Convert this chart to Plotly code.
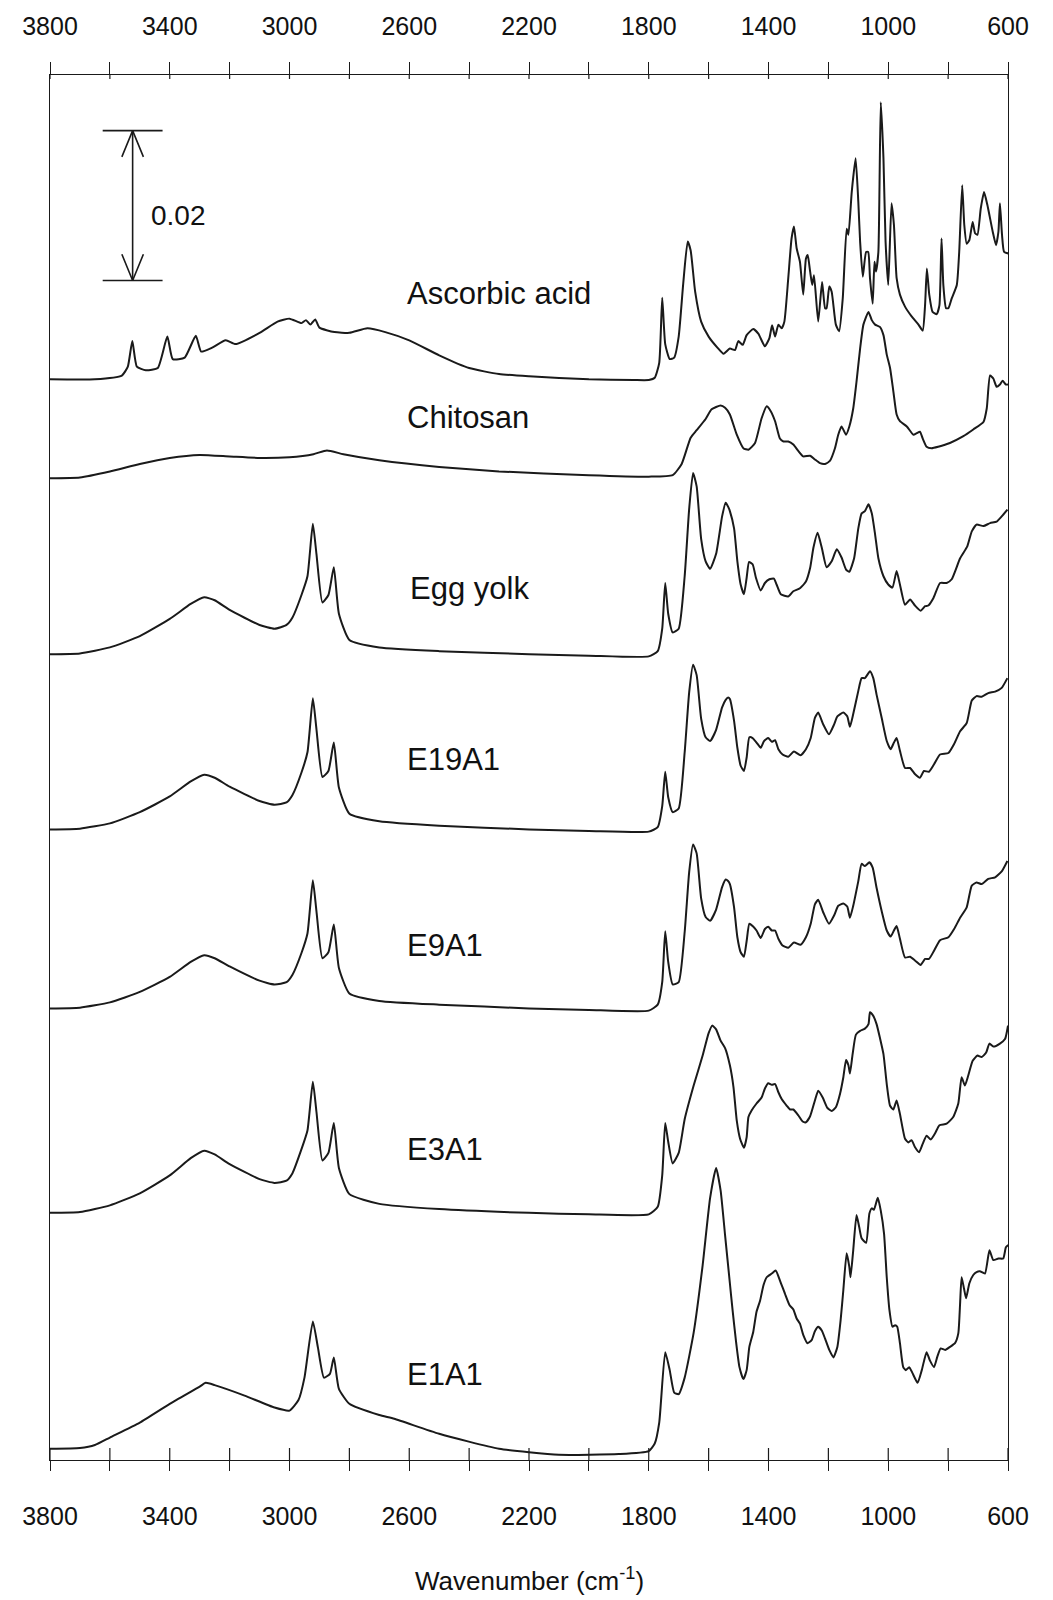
import plotly.graph_objects as go

# ---------------- data (absorbance in 10^-3 units, spectra stacked) ----------------
wn_aa = [3800, 3650, 3560, 3540, 3525, 3510, 3480, 3440, 3408, 3390, 3350, 3313, 3295, 3260, 3213, 3180,
         3100, 3040, 3000, 2960, 2945, 2930, 2914, 2900, 2850, 2800, 2740, 2680, 2600, 2500, 2400, 2300,
         2200, 2000, 1850, 1800, 1780, 1765, 1755, 1745, 1730, 1715, 1700, 1685, 1670, 1660, 1645, 1625,
         1600, 1570, 1550,
         1529, 1512, 1501, 1486, 1473, 1451, 1434, 1412, 1397, 1388, 1378, 1367, 1356, 1347, 1334, 1323,
         1315, 1306, 1295, 1284, 1275, 1269, 1261, 1254, 1248, 1234, 1221, 1211, 1206, 1197, 1189, 1175,
         1164, 1152, 1139, 1133, 1122, 1109, 1100, 1094, 1085, 1074, 1067, 1061, 1052, 1046, 1041, 1033,
         1025, 1016, 1009, 1000, 989, 981, 972, 961, 944, 922, 899, 885, 877, 871, 863, 852, 838, 829,
         822, 816, 807, 799, 788, 771, 763, 753, 746, 738, 729, 718, 710, 702, 691, 680, 669, 651, 640,
         632, 627, 620, 613, 599]
ab_aa = [144.3, 144.3, 144.8, 146.0, 149.4, 146.0, 145.5, 145.8, 150.0, 147.0, 147.2, 150.1, 148.0, 148.5,
         149.5, 149.0, 150.5, 152.0, 152.4, 151.8, 152.2, 151.6, 152.3, 151.2, 150.6, 150.5, 151.1, 150.6,
         149.5, 147.5, 145.8, 145.0, 144.7, 144.3, 144.2, 144.2, 144.5, 146.5, 155.2, 149.0, 147.0, 147.2,
         150.0, 157.0, 162.7, 161.5, 156.0, 152.0, 150.0, 148.5, 147.7,
         148.4, 148.2, 149.4, 148.9, 150.2, 151.0, 150.4, 148.7, 149.8, 151.5, 150.0, 151.6, 151.1, 152.0,
         157.8, 163.1, 164.7, 161.8, 160.0, 155.6, 160.4, 160.9, 158.7, 156.9, 158.2, 152.0, 157.3, 153.8,
         153.8, 156.7, 156.0, 151.6, 150.7, 155.1, 164.4, 163.6, 169.3, 173.8, 168.0, 162.7, 158.0, 161.3,
         161.3, 157.8, 154.4, 160.0, 158.7, 161.3, 181.3, 173.8, 162.7, 156.9, 167.8, 164.9, 157.8, 155.6,
         154.0, 152.7, 151.6, 150.8, 154.2, 159.1, 155.6, 153.3, 153.0, 154.2, 163.1, 156.9, 153.8, 153.8,
         155.1, 156.9, 161.3, 170.2, 164.9, 162.4, 162.9, 165.3, 163.8, 163.6, 167.1, 169.3, 167.6, 164.0,
         162.2, 164.0, 167.8, 163.6, 161.3, 161.1]

wn_ch = [3800, 3700, 3600, 3500, 3400, 3300, 3200, 3100, 3000, 2920, 2875, 2820, 2700, 2500, 2300, 2000,
         1800, 1720, 1690, 1660, 1640, 1610, 1590, 1560, 1545,
         1529, 1506, 1484, 1467, 1445, 1423, 1406, 1395, 1378, 1362, 1350, 1334, 1317, 1300, 1284, 1261,
         1245, 1228, 1211, 1195, 1178, 1167, 1156, 1141, 1130, 1117, 1106, 1094, 1083, 1066, 1055, 1044,
         1028, 1016, 1005, 994, 983, 972, 961, 938, 916, 905, 894, 885, 872, 855, 833, 794, 749, 716, 682,
         671, 660, 649, 638, 627, 618, 607, 599]
ab_ch = [131.1, 131.2, 132.0, 133.0, 133.8, 134.2, 134.0, 133.8, 133.9, 134.3, 134.8, 134.3, 133.5, 132.6,
         132.0, 131.5, 131.3, 131.5, 133.0, 136.5, 137.5, 139.0, 140.3, 140.8, 140.5,
         139.6, 136.9, 135.1, 134.9, 135.8, 139.1, 140.7, 140.2, 138.7, 136.4, 136.0, 136.0, 135.6, 134.7,
         134.0, 134.1, 133.6, 133.1, 133.0, 133.4, 135.1, 136.9, 138.0, 136.9, 138.0, 140.4, 144.0, 148.4,
         151.6, 153.3, 152.2, 151.6, 151.3, 150.2, 147.6, 145.8, 142.7, 139.6, 138.7, 138.0, 136.9, 137.1,
         137.3, 136.4, 135.3, 135.1, 135.3, 135.8, 136.7, 137.6, 138.6, 140.4, 144.8, 144.4, 143.3, 143.6,
         144.1, 143.6, 143.6]

wn_hi = [3800, 3700, 3600, 3500, 3400, 3330, 3285, 3250, 3200, 3100, 3050, 3010, 2990, 2960, 2940, 2922,
         2910, 2890, 2870, 2852, 2835, 2800, 2700, 2500, 2200, 2000, 1800, 1770, 1755, 1745, 1735, 1720,
         1700, 1680, 1665, 1652, 1640, 1625, 1610, 1595, 1575, 1555, 1543, 1535]

wn_fp = [1529, 1515, 1504, 1493, 1482, 1473, 1465, 1453, 1442, 1426, 1412, 1397, 1382, 1373, 1359, 1334,
         1317, 1295, 1275, 1261, 1250, 1236, 1222, 1206, 1189, 1172, 1156, 1141, 1130, 1114, 1100, 1089,
         1078, 1066, 1055, 1044, 1033, 1016, 1000, 986, 972, 961, 944, 927, 911, 892, 877, 866, 849, 827,
         805, 788, 760, 736, 721, 705, 682, 660, 638, 621, 602]

wn_ey = wn_hi + wn_fp
ab_ey = [107.6, 107.7, 108.5, 110.0, 112.3, 114.3, 115.2, 114.8, 113.5, 111.5, 111.0, 111.5, 112.5, 115.5,
         118.0, 125.0, 121.0, 114.5, 115.5, 119.2, 113.0, 109.5, 108.5, 108.0, 107.6, 107.4, 107.3, 108.0,
         111.0, 117.1, 113.0, 110.5, 111.0, 118.0, 127.0, 131.8, 130.0, 123.0, 120.0, 119.0, 121.0, 126.0,
         127.8, 127.3,
         126.7, 124.4, 120.0, 116.9, 115.6, 117.8, 119.9, 119.6, 117.8, 116.1, 117.1, 117.6, 117.7, 116.9,
         115.6, 115.3, 116.0, 116.4, 117.3, 119.1, 121.8, 123.8, 121.8, 119.2, 120.0, 121.6, 120.5, 118.9,
         118.6, 120.4, 124.4, 126.4, 126.7, 127.6, 126.4, 123.6, 120.4, 118.0, 116.9, 116.5, 118.7, 116.9,
         114.2, 114.9, 114.1, 113.4, 114.0, 114.1, 115.1, 117.1, 117.1, 117.6, 120.4, 122.0, 124.0, 124.9,
         124.7, 125.1, 125.3, 126.0, 126.9]

wn_19 = wn_hi + [1529, 1515, 1504, 1493, 1482, 1473, 1464, 1453, 1440, 1426, 1415, 1401, 1389, 1378, 1367,
                 1353, 1334, 1315, 1293, 1275, 1259, 1245, 1234, 1217, 1198, 1181, 1170, 1150, 1137, 1128,
                 1117, 1100, 1089, 1078, 1061, 1050, 1039, 1022, 1005, 992, 981, 972, 961, 944, 927, 911,
                 894, 881, 864, 847, 827, 799, 780, 760, 738, 721, 705, 688, 666, 643, 621, 602]
ab_19 = [84.2, 84.3, 85.0, 86.5, 88.6, 90.6, 91.5, 91.1, 89.9, 88.0, 87.5, 87.8, 88.8, 91.8, 94.5, 101.7,
         97.6, 91.2, 92.0, 95.8, 89.8, 86.3, 85.3, 84.7, 84.2, 84.0, 83.9, 84.5, 87.3, 91.9, 88.5, 86.5,
         87.0, 94.5, 102.5, 106.2, 104.8, 99.0, 96.5, 96.0, 97.5, 100.5, 101.5, 101.8,
         101.6, 98.7, 95.1, 92.7, 92.0, 93.8, 96.5, 96.4, 95.8, 95.1, 96.0, 96.4, 95.9, 96.1, 94.9, 94.2,
         93.9, 94.6, 94.1, 94.9, 96.4, 99.1, 99.8, 98.2, 96.9, 98.2, 99.3, 99.8, 99.3, 97.9, 99.6, 102.7,
         104.4, 104.4, 105.3, 104.4, 102.2, 99.1, 96.0, 94.9, 95.8, 96.4, 94.7, 92.4, 92.4, 91.6, 91.1,
         92.0, 91.9, 92.9, 94.2, 94.4, 95.6, 97.3, 98.4, 101.4, 102.0, 101.9, 102.4, 102.6, 103.1, 104.4]

wn_9 = wn_hi + [1529, 1515, 1504, 1493, 1482, 1473, 1464, 1453, 1440, 1426, 1412, 1401, 1389, 1378, 1367,
                1353, 1334, 1315, 1293, 1275, 1259, 1245, 1234, 1217, 1198, 1181, 1167, 1150, 1137, 1128,
                1117, 1100, 1089, 1078, 1063, 1052, 1039, 1022, 1005, 992, 981, 972, 961, 944, 927, 911,
                892, 877, 864, 847, 827, 799, 780, 760, 738, 721, 705, 688, 666, 643, 621, 602]
ab_9 = [60.3, 60.4, 61.1, 62.5, 64.5, 66.5, 67.4, 67.0, 65.9, 64.0, 63.5, 63.8, 64.8, 67.7, 70.3, 77.4,
        73.3, 67.0, 67.8, 71.5, 65.7, 62.3, 61.3, 60.8, 60.3, 60.1, 60.0, 60.8, 63.8, 70.6, 66.5, 63.5,
        63.8, 70.5, 78.5, 82.2, 81.0, 75.0, 72.5, 72.0, 73.5, 76.5, 77.5, 77.3,
        76.9, 73.8, 69.8, 67.8, 67.2, 69.3, 71.6, 71.3, 70.7, 69.7, 70.9, 71.2, 70.7, 70.7, 69.6, 68.7,
        68.4, 69.1, 68.8, 69.8, 71.6, 74.2, 74.8, 73.1, 71.6, 72.7, 74.0, 74.3, 73.9, 72.4, 74.0, 77.3,
        79.6, 79.3, 79.8, 79.1, 76.4, 73.3, 70.7, 69.9, 70.7, 71.3, 69.6, 67.1, 67.2, 66.7, 66.1, 66.9,
        66.9, 68.0, 69.4, 69.8, 70.9, 72.4, 73.8, 76.7, 77.1, 76.9, 77.6, 77.8, 78.6, 80.0]

wn_3 = [3800, 3700, 3600, 3500, 3400, 3330, 3285, 3250, 3200, 3100, 3050, 3010, 2990, 2960, 2940, 2922,
        2910, 2890, 2870, 2852, 2835, 2800, 2700, 2500, 2200, 2000, 1800, 1770, 1755, 1745, 1735, 1720,
        1700, 1680, 1650, 1620, 1600, 1588, 1575, 1560, 1545,
        1529, 1517, 1506, 1495, 1482, 1473, 1467, 1456, 1440, 1423, 1412, 1401, 1389, 1378, 1367, 1356,
        1339, 1328, 1317, 1300, 1286, 1275, 1261, 1245, 1234, 1219, 1203, 1189, 1175, 1161, 1150, 1141,
        1133, 1128, 1119, 1108, 1094, 1078, 1066, 1061, 1050, 1039, 1028, 1016, 1005, 994, 983, 972, 961,
        944, 933, 922, 911, 897, 885, 872, 858, 844, 829, 805, 783, 766, 755, 744, 733, 718, 702, 688,
        673, 662, 649, 627, 610, 600]
ab_3 = [33.0, 33.1, 34.0, 35.6, 38.0, 40.3, 41.3, 40.8, 39.5, 37.5, 37.0, 37.3, 38.3, 41.5, 44.0, 50.5,
        46.5, 40.0, 41.0, 45.0, 39.0, 35.5, 34.2, 33.5, 33.0, 32.8, 32.8, 33.8, 38.0, 45.0, 42.5, 39.6,
        41.0, 45.5, 50.0, 54.0, 57.0, 58.0, 57.5, 56.0, 55.0,
        52.7, 49.8, 45.3, 42.9, 41.7, 43.1, 45.8, 46.7, 47.6, 48.4, 49.6, 50.3, 50.1, 50.2, 49.1, 48.2,
        47.3, 46.8, 46.8, 46.0, 45.2, 45.1, 45.9, 48.0, 49.3, 48.4, 47.0, 46.6, 47.1, 48.9, 51.1, 53.4,
        52.7, 51.6, 54.2, 56.8, 57.3, 57.6, 58.2, 59.8, 59.3, 58.2, 56.4, 54.2, 50.2, 47.3, 46.8, 48.0,
        46.2, 42.9, 42.4, 42.7, 41.8, 41.1, 42.2, 43.3, 42.8, 43.6, 44.7, 44.9, 45.8, 47.6, 51.1, 50.0,
        51.3, 53.3, 54.0, 53.8, 54.4, 55.6, 55.2, 55.6, 56.2, 58.0]

wn_1 = [3800, 3700, 3650, 3600, 3500, 3400, 3300, 3280, 3250, 3150, 3050, 3000, 2970, 2950, 2922, 2905,
        2885, 2865, 2852, 2835, 2800, 2700, 2650, 2500, 2300, 2100, 1900, 1800, 1780, 1765, 1745, 1730,
        1715, 1700, 1680, 1650, 1620, 1595, 1575, 1560, 1545,
        1529, 1520, 1509, 1497, 1484, 1473, 1464, 1451, 1440, 1428, 1417, 1406, 1389, 1376, 1362, 1345,
        1330, 1317, 1306, 1295, 1284, 1270, 1256, 1245, 1234, 1222, 1211, 1197, 1183, 1170, 1159, 1150,
        1139, 1130, 1126, 1117, 1106, 1097, 1089, 1074, 1063, 1055, 1048, 1035, 1025, 1014, 1005, 996,
        986, 977, 970, 961, 950, 941, 930, 919, 902, 888, 872, 861, 847, 836, 825, 810, 794, 777, 766,
        760, 755, 747, 740, 729, 716, 705, 694, 677, 662, 649, 632, 616, 607, 599]
ab_1 = [1.5, 1.6, 2.0, 3.0, 5.0, 7.5, 9.8, 10.3, 10.0, 8.6, 7.0, 6.6, 8.0, 11.0, 18.5, 15.0, 11.0, 11.5,
        13.7, 9.5, 7.5, 6.0, 5.5, 3.5, 1.5, 0.7, 0.8, 1.2, 2.2, 5.0, 14.4, 12.0, 9.0, 8.8, 11.0, 17.0,
        26.0, 35.0, 39.0, 36.0, 30.0,
        23.6, 20.0, 16.0, 12.4, 10.8, 12.0, 15.1, 17.1, 19.8, 21.3, 23.3, 24.4, 24.9, 25.3, 24.0, 22.2,
        20.7, 20.1, 18.9, 18.2, 16.7, 15.6, 16.0, 17.2, 17.8, 17.3, 16.2, 14.7, 13.7, 15.1, 18.7, 22.7,
        27.6, 25.8, 24.4, 28.0, 32.7, 31.1, 29.6, 29.0, 32.9, 33.6, 33.4, 35.0, 33.3, 30.2, 24.4, 20.0,
        17.8, 18.0, 17.8, 15.6, 12.4, 12.0, 12.4, 11.6, 10.3, 12.0, 14.4, 13.3, 12.4, 13.8, 14.9, 14.7,
        15.1, 15.6, 16.9, 20.9, 24.4, 22.9, 21.6, 23.6, 24.7, 25.1, 25.2, 24.9, 28.0, 26.7, 26.9, 26.9,
        28.4, 28.7]

names = ["Ascorbic acid", "Chitosan", "Egg yolk", "E19A1", "E9A1", "E3A1", "E1A1"]
spectra_x = [wn_aa, wn_ch, wn_ey, wn_19, wn_9, wn_3, wn_1]
spectra_y = [ab_aa, ab_ch, ab_ey, ab_19, ab_9, ab_3, ab_1]
label_wn = [2614, 2614, 2604, 2614, 2614, 2614, 2614]
label_ab = [155.8, 139.2, 116.3, 93.6, 68.7, 41.5, 11.4]

major_ticks = [3800, 3400, 3000, 2600, 2200, 1800, 1400, 1000, 600]
major_text = ["3800", "3400", "3000", "2600", "2200", "1800", "1400", "1000", "600"]
minor_ticks = [3600, 3200, 2800, 2400, 2000, 1600, 1200, 800]

scale_wn = 3524      # position of the scale bar
scale_base = 157.5   # bottom of the scale bar
scale_len = 20.0     # 0.02 absorbance
scale_label = "0.02"

Y_MAX = 184.93
FONT = "Liberation Sans, Arial, sans-serif"
INK = "#1a1a1a"

fig = go.Figure()
for xs, ys, nm in zip(spectra_x, spectra_y, names):
    fig.add_trace(go.Scatter(x=xs, y=ys, mode="lines", name=nm,
                             line=dict(color=INK, width=2.0, shape="spline", smoothing=0.5),
                             hoverinfo="skip", showlegend=False))

# scale bar (drawn on the top x-axis which shares the same range)
cap_half = 100
arm_dx = 36
arm_dy = 3.5
top = scale_base + scale_len
sx = [scale_wn + cap_half, scale_wn - cap_half, None,
      scale_wn + cap_half, scale_wn - cap_half, None,
      scale_wn, scale_wn, None,
      scale_wn + arm_dx, scale_wn, scale_wn - arm_dx, None,
      scale_wn + arm_dx, scale_wn, scale_wn - arm_dx]
sy = [top, top, None,
      scale_base, scale_base, None,
      top, scale_base, None,
      top - arm_dy, top, top - arm_dy, None,
      scale_base + arm_dy, scale_base, scale_base + arm_dy]
fig.add_trace(go.Scatter(x=sx, y=sy, xaxis="x2", mode="lines", line=dict(color=INK, width=1.6),
                         hoverinfo="skip", showlegend=False))

for nm, lx, ly in zip(names, label_wn, label_ab):
    fig.add_annotation(x=lx, y=ly, text=nm, showarrow=False, xanchor="left", yanchor="middle",
                       font=dict(family=FONT, size=31, color="#111"))
fig.add_annotation(x=3469, y=166.2, text=scale_label, showarrow=False, xanchor="left", yanchor="middle",
                   font=dict(family=FONT, size=28, color="#111"))
fig.add_annotation(x=0.5, y=-0.0865, xref="paper", yref="paper", text="Wavenumber (cm<sup>-1</sup>)",
                   showarrow=False, xanchor="center", yanchor="middle",
                   font=dict(family=FONT, size=26, color="#111"))

# inner halves of the crossing ticks
plot_h = 1600 - 73 - 140
for tv in major_ticks + minor_ticks:
    fig.add_shape(type="line", xref="x", yref="paper", x0=tv, x1=tv, y0=0, y1=12 / plot_h,
                  line=dict(color=INK, width=1.2))
    fig.add_shape(type="line", xref="x", yref="paper", x0=tv, x1=tv, y0=1, y1=1 - 4 / plot_h,
                  line=dict(color=INK, width=1.2))

axis_common = dict(range=[3800, 600], tickvals=major_ticks, ticktext=major_text, ticks="outside",
                   tickwidth=1.2, tickcolor=INK, showline=True, linecolor=INK, linewidth=1.2,
                   showgrid=False, zeroline=False, tickfont=dict(family=FONT, size=25, color="#111"))
fig.update_layout(
    width=1053, height=1600,
    margin=dict(l=50, r=45, t=73, b=140),
    paper_bgcolor="white", plot_bgcolor="white",
    xaxis=dict(**axis_common, side="bottom", ticklen=10, ticklabelstandoff=24,
               minor=dict(tickvals=minor_ticks, ticks="outside", ticklen=10, tickwidth=1.2, tickcolor=INK)),
    xaxis2=dict(**axis_common, side="top", overlaying="x", anchor="y", ticklen=12, ticklabelstandoff=17,
                minor=dict(tickvals=minor_ticks, ticks="outside", ticklen=12, tickwidth=1.2, tickcolor=INK)),
    yaxis=dict(range=[0, Y_MAX], showline=True, mirror=True, linecolor=INK, linewidth=1.2,
               ticks="", showticklabels=False, showgrid=False, zeroline=False),
)
fig.write_html("out.html")
